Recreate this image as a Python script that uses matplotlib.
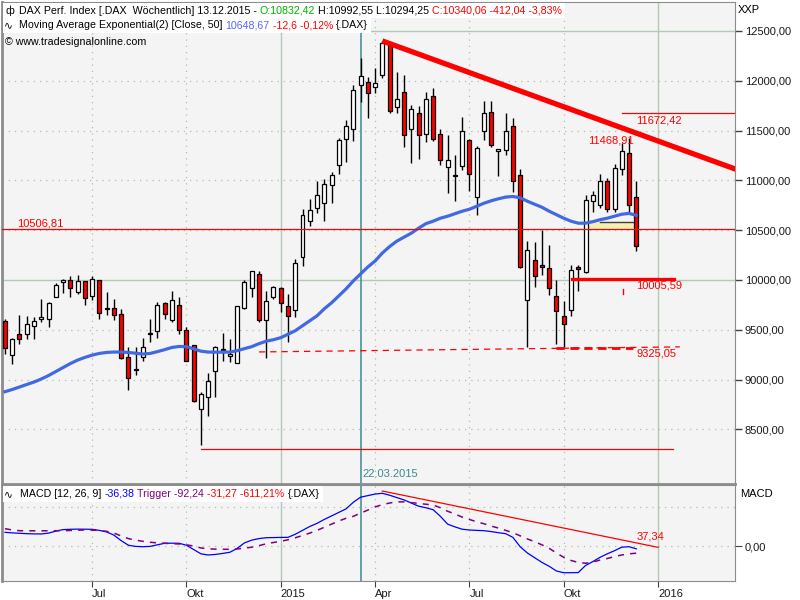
import matplotlib
matplotlib.use("Agg")
import matplotlib.pyplot as plt
from matplotlib.patches import Rectangle

plt.rcParams["font.family"] = ["Liberation Sans", "DejaVu Sans"]

# weekly candles, DAX, Apr 2014 .. 13.12.2015
opens = [9588, 9244, 9455, 9455, 9538, 9605, 9605, 9826, 9987, 9997,
         9882, 9987, 9836, 9997, 9712, 9716, 9655, 9224, 9100, 9224,
         9460, 9485, 9769, 9598, 9746, 9498, 9344, 8702, 8822, 9083,
         9307, 9237, 9163, 9719, 9916, 10057, 9595, 9826, 9916, 9739,
         9699, 10228, 10592, 10720, 10770, 10951, 11151, 11412, 11513, 11955,
         11988, 11935, 12055, 12359, 11734, 11884, 11513, 11673, 11463, 11844,
         11463, 11131, 11047, 11141, 11402, 10830, 11493, 11683, 11292, 11302,
         11543, 11051, 9802, 10198, 10150, 10117, 9836, 9635, 9695, 10127,
         10083, 10790, 10750, 10991, 10710, 11112, 11272, 10832.42]
highs = [9608, 9421, 9645, 9641, 9625, 9809, 9779, 9970, 10013, 10040,
         10050, 9990, 10040, 9997, 9879, 9806, 9706, 9324, 9324, 9414,
         9608, 9779, 9779, 9889, 9826, 9525, 9350, 8875, 9069, 9334,
         9468, 9410, 9736, 9997, 10093, 10087, 9889, 9940, 9926, 9856,
         10208, 10713, 10813, 10994, 11011, 11084, 11428, 11606, 11958, 12226,
         12041, 12125, 12395, 12390, 12085, 12055, 11757, 11750, 11890, 11924,
         11516, 11453, 11252, 11633, 11412, 11342, 11800, 11800, 11312, 11673,
         11623, 11114, 10391, 10378, 10502, 10351, 10000, 9789, 10150, 10150,
         10850, 10893, 11061, 11024, 11160, 11372, 11430, 10992.55]
lows = [9254, 9156, 9360, 9404, 9404, 9575, 9531, 9826, 9866, 9826,
        9856, 9746, 9796, 9611, 9649, 9595, 9204, 8898, 9049, 9190,
        9380, 9420, 9611, 9578, 9461, 9185, 8778, 8346, 8637, 8828,
        9184, 9177, 9163, 9712, 9832, 9581, 9214, 9810, 9681, 9380,
        9625, 10143, 10542, 10676, 10595, 10770, 11067, 11188, 11398, 11790,
        11623, 11880, 12025, 11673, 11673, 11332, 11171, 11218, 11382, 11398,
        11157, 10870, 10796, 11100, 10893, 10649, 11402, 11332, 11047, 11252,
        10886, 10120, 9330, 9926, 10050, 9849, 9357, 9324, 9642, 9889,
        10067, 10685, 10720, 10685, 10680, 11050, 10660, 10294.25]
closes = [9314, 9407, 9404, 9555, 9588, 9625, 9769, 9947, 9990, 9916,
          9987, 9816, 10007, 9665, 9710, 9645, 9214, 9013, 9105, 9330,
          9462, 9746, 9655, 9796, 9495, 9190, 8785, 8852, 8983, 9327,
          9295, 9254, 9736, 9980, 10087, 9595, 9786, 9926, 9766, 9641,
          10167, 10649, 10700, 10853, 10964, 11051, 11402, 11549, 11904, 12045,
          11874, 11975, 12376, 11694, 11814, 11453, 11714, 11453, 11814, 11412,
          11202, 11202, 11050, 11493, 11061, 11322, 11673, 11352, 11312, 11493,
          10994, 10127, 10298, 10037, 10127, 9916, 9685, 9555, 10097, 10107,
          10800, 10850, 10991, 10710, 11121, 11292, 10753, 10340.06]

# exponential moving average (50)
ema50 = [8878, 8900, 8925, 8950, 8975, 9005, 9040, 9080, 9120, 9160,
         9195, 9222, 9245, 9262, 9272, 9276, 9276, 9272, 9264, 9256,
         9262, 9280, 9300, 9322, 9332, 9330, 9308, 9285, 9276, 9275,
         9275, 9276, 9290, 9310, 9330, 9360, 9385, 9400, 9420, 9455,
         9490, 9540, 9590, 9640, 9710, 9770, 9840, 9910, 9990, 10060,
         10130, 10190, 10270, 10335, 10390, 10430, 10470, 10520, 10565, 10590,
         10620, 10640, 10665, 10690, 10710, 10740, 10770, 10795, 10815, 10832,
         10838, 10825, 10790, 10760, 10730, 10690, 10655, 10620, 10590, 10570,
         10570, 10585, 10605, 10620, 10640, 10660, 10668, 10649]

macd = [175, 168, 163, 158, 155, 154, 165, 190, 210, 214,
        216, 215, 214, 200, 180, 140, 70, 10, -5, -9,
        -5, 15, 35, 36, 35, 10, -45, -100, -115, -108,
        -95, -80, -30, 40, 75, 95, 106, 108, 110, 111,
        150, 200, 250, 290, 340, 385, 430, 475, 560, 625,
        645, 665, 675, 650, 620, 590, 550, 510, 490, 465,
        380, 280, 245, 215, 205, 200, 196, 185, 170, 158,
        110, -10, -90, -150, -210, -260, -320, -342, -342, -340,
        -250, -200, -145, -100, -60, -15, -9, -36]
trigger = [222, 205, 196, 195, 195, 195, 195, 196, 196, 199,
           202, 205, 203, 198, 188, 165, 130, 95, 75, 60,
           48, 40, 35, 30, 26, 15, 0, -25, -36, -40,
           -42, -42, -38, -28, -15, 5, 28, 45, 60, 80,
           105, 135, 165, 200, 240, 280, 320, 355, 380, 420,
           460, 500, 530, 550, 565, 565, 555, 545, 535, 525,
           490, 445, 410, 370, 340, 310, 285, 255, 230, 200,
           170, 130, 90, 55, 15, -30, -90, -145, -185, -210,
           -221, -205, -180, -160, -135, -115, -100, -92]

month_pos = [12, 25, 38, 51, 64, 77, 90]
month_labels = ["Jul", "Okt", "2015", "Apr", "Jul", "Okt", "2016"]
year_pos = [38, 90]
price_ticks = [8500, 9000, 9500, 10000, 10500, 11000, 11500, 12000, 12500]
price_major = [10000, 12500]

trend_x = [52, 101]
trend_y = [12400, 11104]
support_x = [35, 93]
support_y = [9277, 9328]
macd_trend_x = [52, 90]
macd_trend_y = [704, -17]
marker_bar = 49

RED = "#ff0000"
GRID = "#a9bfa9"
TEAL = "#3a8a94"
BG = "#f4f4f4"
HEAD = 7.7


def fx(px):
    return px / 800


def fy(py):
    return 1 - py / 600


def money(v):
    return f"{v:.2f}".replace(".", ",")


def segments(fig, x, y, parts, size=HEAD):
    r = fig.canvas.get_renderer()
    for s, col in parts:
        t = fig.text(fx(x), fy(y), s, color=col, fontsize=size, va="center", ha="left", zorder=5)
        x += t.get_window_extent(renderer=r).width + 3
    return x


fig = plt.figure(figsize=(8, 6), dpi=100)
ax = fig.add_axes([fx(2), fy(484), fx(735) - fx(2), fy(2) - fy(484)])
ax2 = fig.add_axes([fx(2), fy(581), fx(735) - fx(2), fy(485) - fy(581)])

for a in (ax, ax2):
    a.set_facecolor(BG)
    a.set_xlim(-0.41, 100.6)
    for p in month_pos:
        if p in year_pos:
            a.axvline(p, color="#b4c8b4", lw=1, zorder=0)
        else:
            a.axvline(p, color=GRID, lw=0.9, ls=(0, (1, 4)), zorder=0)
    a.axvline(marker_bar, color=TEAL, lw=1.1, zorder=1)
    for sp in a.spines.values():
        sp.set_color("#8c8c8c")
    a.spines["left"].set_linewidth(2)

# main panel
ax.set_ylim(7951, 12791)
for v in price_ticks:
    if v in price_major:
        ax.axhline(v, color="#b4c8b4", lw=1, zorder=0)
    else:
        ax.axhline(v, color=GRID, lw=0.9, ls=(0, (1, 4)), zorder=0)

idx = list(range(len(opens)))
ax.vlines(idx, lows, highs, color="black", lw=1, zorder=2)
for i in idx:
    o, c = opens[i], closes[i]
    col = "white" if c >= o else RED
    h = max(abs(c - o), 14)
    ax.bar(i, h, bottom=min(o, c) - (h - abs(c - o)) / 2, width=0.55,
           color=col, edgecolor="black", lw=0.9, zorder=3)

ax.add_patch(Rectangle((80.2, 10509), 6.8, 76, facecolor="#f6efb2", edgecolor="none", zorder=2.5))
ax.plot([82, 87], [10585, 10585], color="#404040", lw=1, zorder=2.6)

ax.plot(idx, ema50, color="#4169e1", lw=2.3, zorder=4)
ax.plot(trend_x, trend_y, color=RED, lw=3.8, solid_capstyle="butt", zorder=6)

ax.axhline(10506.81, color=RED, lw=0.9, zorder=5)
ax.plot([85, 101], [11672.42, 11672.42], color=RED, lw=0.9, zorder=5)
ax.plot([78.1, 92.2], [10005.59, 10005.59], color=RED, lw=2.4, zorder=5)
ax.plot([85.1, 85.1], [9860, 9910], color=RED, lw=1, zorder=5)
ax.plot(support_x, support_y, color=RED, lw=0.9, ls=(0, (5, 4)), zorder=5)
ax.plot([76, 86.5], [9320, 9320], color=RED, lw=2, ls=(0, (3, 2)), zorder=5)
ax.plot([27, 92.1], [8300, 8300], color=RED, lw=0.9, zorder=5)

ax.text(1.65, 10520, "10506,81", color=RED, fontsize=8, va="bottom", ha="left", zorder=7)
ax.text(87, 11656, "11672,42", color=RED, fontsize=8, va="top", ha="left", zorder=7)
ax.text(86.6, 11405, "11468,91", color=RED, fontsize=8, va="center", ha="right", zorder=7)
ax.text(87, 9945, "10005,59", color=RED, fontsize=8, va="center", ha="left", zorder=7)
ax.text(87, 9262, "9325,05", color=RED, fontsize=8, va="center", ha="left", zorder=7)
ax.text(49.2, 8052, "22.03.2015", color=TEAL, fontsize=8, va="center", ha="left", zorder=7)

ax.yaxis.tick_right()
ax.set_yticks(price_ticks)
ax.set_yticklabels([money(v) for v in price_ticks])
ax.tick_params(axis="y", direction="out", length=5, width=1, color="#404040",
               labelsize=8, pad=2, labelcolor="#1a1a1a")
ax.set_xticks([])
ax.spines["bottom"].set_linewidth(2)

# MACD panel
ax2.set_ylim(-448, 781)
ax2.axhline(500, color=GRID, lw=0.9, ls=(0, (1, 4)), zorder=0)
ax2.axhline(0, color=GRID, lw=0.9, ls=(0, (1, 4)), zorder=0)
ax2.plot(idx, macd, color="#0000ff", lw=0.9, zorder=3)
ax2.plot(idx, trigger, color="#800080", lw=1.1, ls=(0, (4, 4)), zorder=3)
ax2.plot(macd_trend_x, macd_trend_y, color=RED, lw=0.9, zorder=4)
ax2.text(87, 119, "37,34", color=RED, fontsize=8, va="center", ha="left", zorder=7)
ax2.yaxis.tick_right()
ax2.set_yticks([0])
ax2.set_yticklabels(["0,00"])
ax2.tick_params(axis="y", direction="out", length=5, color="#404040",
                labelsize=8, pad=2, labelcolor="#1a1a1a")
ax2.set_xticks(month_pos)
ax2.set_xticklabels(month_labels)
ax2.tick_params(axis="x", direction="out", length=4, color="#404040",
                labelsize=8, pad=2, labelcolor="#1a1a1a")
for lab in ax2.get_xticklabels():
    lab.set_ha("left")

fig.text(fx(738), fy(10), "XXP", fontsize=8, va="center", ha="left")
fig.text(fx(740), fy(494), "MACD", fontsize=8, va="center", ha="left")

# header legends
end1 = segments(fig, 19, 10.5, [
    ("DAX Perf. Index [.DAX  Wöchentlich] 13.12.2015 -", "black"),
    ("O:10832,42", "#00b400"),
    ("H:10992,55 L:10294,25", "black"),
    ("C:10340,06 -412,04 -3,83%", RED)])
end2 = segments(fig, 19, 25.5, [
    ("Moving Average Exponential(2) [Close, 50]", "black"),
    ("10648,67", "#5a64ff"),
    ("-12,6 -0,12%", RED),
    ("{.DAX}", "black")])
end3 = segments(fig, 20, 494, [
    ("MACD [12, 26, 9]", "black"),
    ("-36,38", "#0000ff"),
    ("Trigger -92,24", "#800080"),
    ("-31,27 -611,21%", RED),
    ("{.DAX}", "black")])
fig.text(fx(5), fy(10.5), "ф", fontsize=HEAD, va="center", ha="left", zorder=5)
fig.text(fx(4), fy(25.5), "∿", fontsize=HEAD, va="center", ha="left", zorder=5)
fig.text(fx(4), fy(494), "∿", fontsize=HEAD, va="center", ha="left", zorder=5)
fig.text(fx(5), fy(42), "© www.tradesignalonline.com", fontsize=HEAD, va="center", ha="left", zorder=5)

for x0, x1, y0, y1 in [(3, end1, 3, 18), (3, end2, 18, 33), (3, end3, 486, 502)]:
    fig.patches.append(Rectangle((fx(x0), fy(y1)), fx(x1) - fx(x0), fy(y0) - fy(y1),
                                 transform=fig.transFigure, facecolor="white",
                                 edgecolor="none", zorder=1))

fig.savefig("out.png", dpi=100)
